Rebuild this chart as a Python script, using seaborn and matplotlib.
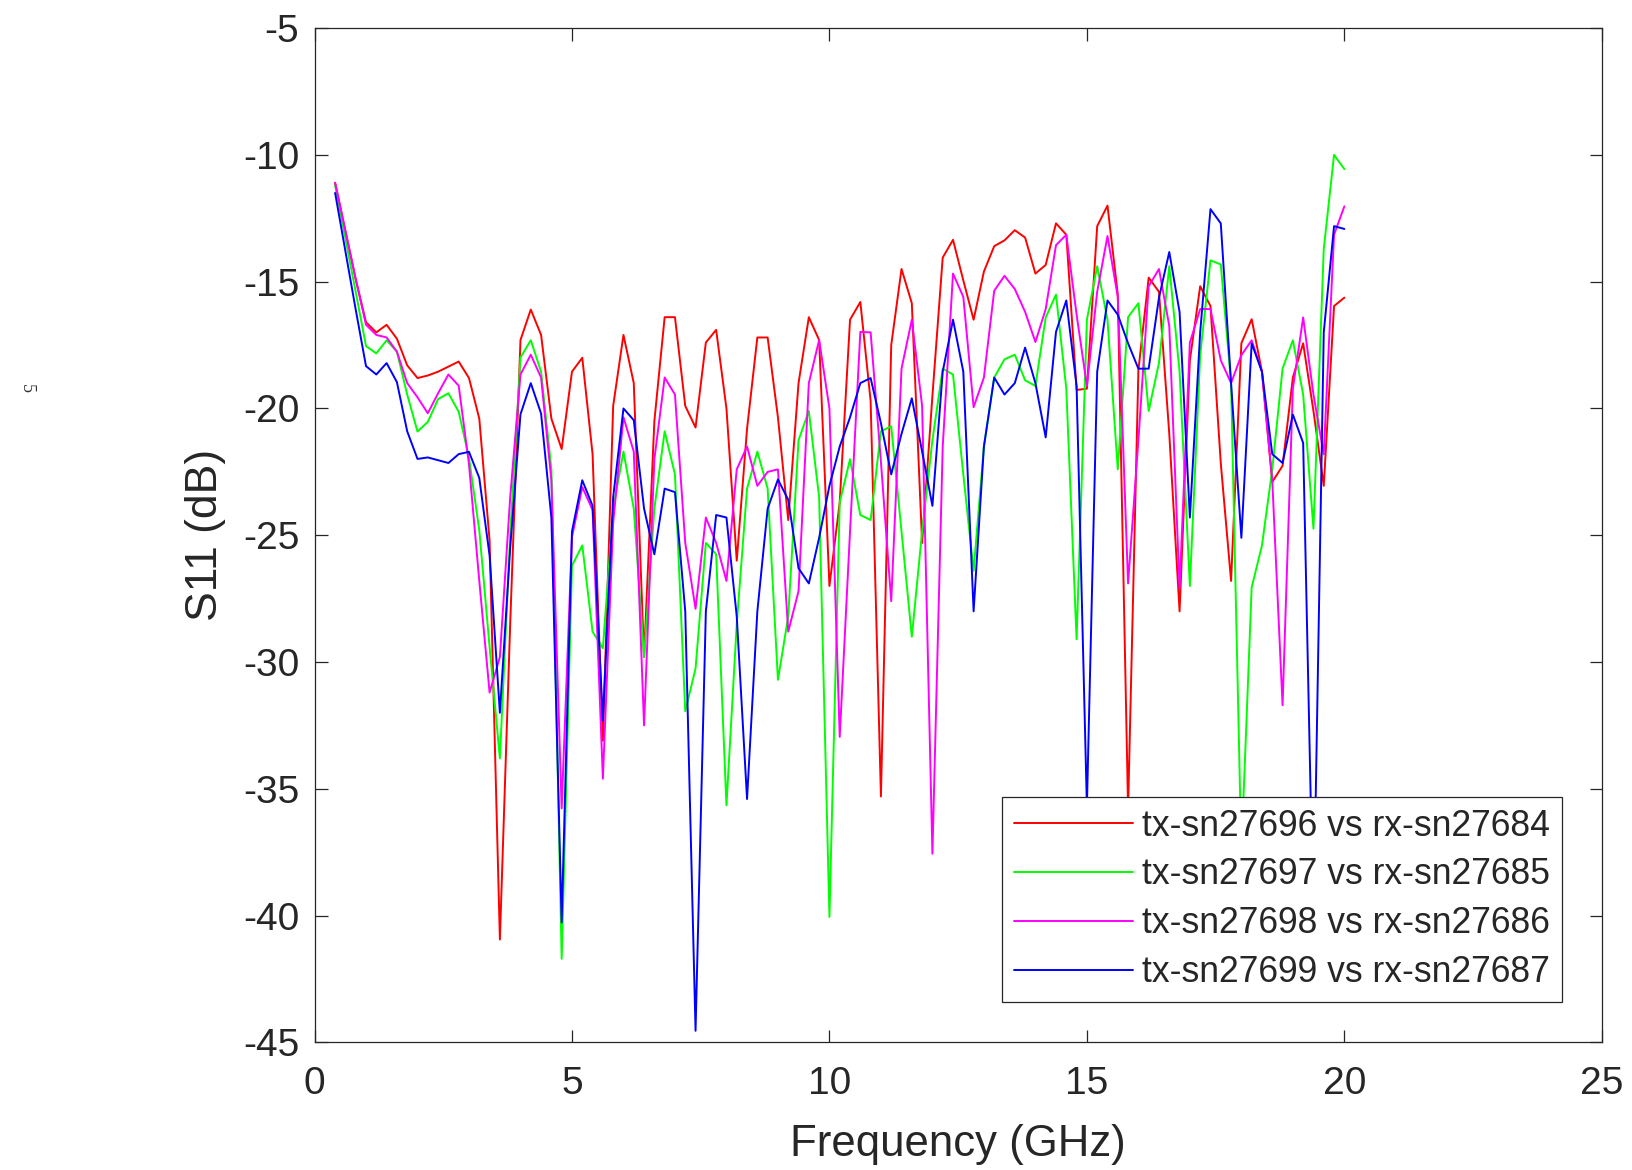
import numpy as np
import pandas as pd
import matplotlib
matplotlib.use("Agg")
import matplotlib.pyplot as plt
import seaborn as sns

# ---------------- data ----------------
freq_ghz = [0.4, 0.6, 0.8, 1.0, 1.2, 1.4, 1.6, 1.8, 2.0, 2.2, 2.4, 2.6, 2.8, 3.0, 3.2, 3.4, 3.6, 3.8, 4.0, 4.2,
            4.4, 4.6, 4.8, 5.0, 5.2, 5.4, 5.6, 5.8, 6.0, 6.2, 6.4, 6.6, 6.8, 7.0, 7.2, 7.4, 7.6, 7.8, 8.0, 8.2,
            8.4, 8.6, 8.8, 9.0, 9.2, 9.4, 9.6, 9.8, 10.0, 10.2, 10.4, 10.6, 10.8, 11.0, 11.2, 11.4, 11.6, 11.8, 12.0, 12.2,
            12.4, 12.6, 12.8, 13.0, 13.2, 13.4, 13.6, 13.8, 14.0, 14.2, 14.4, 14.6, 14.8, 15.0, 15.2, 15.4, 15.6, 15.8, 16.0, 16.2,
            16.4, 16.6, 16.8, 17.0, 17.2, 17.4, 17.6, 17.8, 18.0, 18.2, 18.4, 18.6, 18.8, 19.0, 19.2, 19.4, 19.6, 19.8, 20.0]

s11_tx27696 = [-11.1, -13.0, -14.9, -16.6, -17.0, -16.7, -17.25, -18.3, -18.8, -18.7, -18.55, -18.35, -18.15, -18.8, -20.4, -25.2, -40.94, -28.5, -17.3, -16.1,
               -17.1, -20.4, -21.6, -18.55, -18.0, -21.8, -33.1, -19.9, -17.1, -19.0, -29.8, -20.5, -16.4, -16.4, -19.9, -20.75, -17.4, -16.9, -20.0, -26.0,
               -20.8, -17.2, -17.2, -20.35, -24.4, -19.0, -16.4, -17.3, -27.0, -23.7, -16.5, -15.8, -19.7, -35.3, -17.5, -14.5, -15.85, -25.3, -19.5, -14.05,
               -13.35, -14.95, -16.5, -14.6, -13.6, -13.37, -12.97, -13.26, -14.68, -14.34, -12.7, -13.15, -19.27, -19.22, -12.81, -12.0, -15.5, -35.8, -18.5, -14.84,
               -15.4, -21.0, -28.0, -18.1, -15.18, -15.96, -22.15, -26.8, -17.43, -16.48, -18.55, -22.9, -22.26, -18.78, -17.43, -20.1, -23.05, -15.96, -15.63]

s11_tx27697 = [-11.2, -13.3, -15.4, -17.54, -17.83, -17.31, -17.76, -19.45, -20.91, -20.53, -19.63, -19.4, -20.13, -21.95, -24.8, -29.4, -33.8, -25.0, -17.99, -17.31,
               -18.55, -22.4, -41.7, -26.2, -25.4, -28.8, -29.46, -23.95, -21.7, -23.95, -29.8, -23.95, -20.9, -22.6, -31.94, -30.25, -25.3, -25.75, -35.65, -28.5,
               -23.16, -21.7, -23.16, -30.7, -28.2, -21.25, -20.1, -23.5, -40.05, -23.7, -22.0, -24.2, -24.4, -20.9, -20.7, -24.85, -29.0, -24.85, -21.25, -18.43,
               -18.66, -22.6, -26.4, -21.5, -18.78, -18.06, -17.88, -18.89, -19.11, -16.41, -15.51, -19.22, -29.1, -16.5, -14.39, -16.5, -22.4, -16.4, -15.85, -20.1,
               -18.2, -14.39, -18.55, -27.0, -17.9, -14.16, -14.32, -19.0, -37.5, -27.06, -25.4, -22.4, -18.43, -17.31, -19.45, -24.74, -13.71, -10.0, -10.56]

s11_tx27698 = [-11.1, -13.0, -14.9, -16.7, -17.1, -17.2, -17.76, -19.0, -19.56, -20.19, -19.4, -18.66, -19.1, -22.2, -26.8, -31.2, -29.8, -23.5, -18.66, -17.88,
               -18.78, -22.83, -35.77, -25.07, -23.1, -24.0, -34.6, -24.5, -20.35, -21.7, -32.5, -22.0, -18.78, -19.45, -25.3, -27.9, -24.3, -25.3, -26.8, -22.4,
               -21.5, -23.05, -22.5, -22.4, -28.8, -27.2, -19.0, -17.3, -20.0, -32.95, -24.85, -16.98, -17.0, -22.1, -27.6, -18.43, -16.5, -19.9, -37.56, -21.5,
               -14.68, -15.6, -19.95, -18.78, -15.36, -14.77, -15.29, -16.19, -17.38, -16.08, -13.56, -13.15, -16.3, -19.11, -15.4, -13.2, -15.6, -26.9, -21.25, -15.18,
               -14.5, -16.75, -27.1, -17.4, -16.08, -16.08, -18.1, -19.0, -17.9, -17.31, -18.55, -22.83, -31.7, -19.22, -16.41, -19.45, -21.81, -13.15, -12.03]

s11_tx27699 = [-11.5, -13.8, -16.1, -18.33, -18.66, -18.21, -18.96, -20.9, -21.99, -21.93, -22.04, -22.15, -21.8, -21.71, -22.74, -25.8, -32.0, -25.5, -20.23, -19.0,
               -20.2, -24.3, -40.27, -24.85, -22.83, -23.84, -32.3, -23.5, -20.0, -20.46, -23.95, -25.75, -23.16, -23.3, -28.0, -44.54, -28.0, -24.2, -24.3, -28.2,
               -35.4, -28.0, -23.95, -22.8, -23.6, -26.3, -26.9, -25.1, -23.05, -21.5, -20.35, -19.0, -18.8, -20.58, -22.6, -21.0, -19.6, -21.7, -23.84, -18.55,
               -16.5, -18.55, -28.0, -21.5, -18.78, -19.45, -19.0, -17.6, -19.0, -21.14, -16.98, -15.74, -19.11, -35.7, -18.55, -15.74, -16.3, -17.43, -18.43, -18.43,
               -15.63, -13.83, -16.2, -24.3, -17.0, -12.14, -12.7, -19.0, -25.1, -17.43, -18.55, -21.8, -22.15, -20.24, -21.36, -40.5, -17.0, -12.81, -12.92]

series_labels = ["tx-sn27696 vs rx-sn27684", "tx-sn27697 vs rx-sn27685",
                 "tx-sn27698 vs rx-sn27686", "tx-sn27699 vs rx-sn27687"]
series_values = [s11_tx27696, s11_tx27697, s11_tx27698, s11_tx27699]
series_colors = ["#FF0000", "#00FF00", "#FF00FF", "#0000FF"]

x_ticks = [0, 5, 10, 15, 20, 25]
y_ticks = [-45, -40, -35, -30, -25, -20, -15, -10, -5]

# ---------------- style ----------------
sns.set_style("white")
plt.rcParams["font.family"] = ["Liberation Sans", "DejaVu Sans"]
plt.rcParams["axes.unicode_minus"] = False

fig = plt.figure(figsize=(16.33, 11.70), dpi=100)
ax = fig.add_axes([0.1926, 0.109, 0.9809 - 0.1926, 0.976 - 0.109])

frames = []
for lab, vals in zip(series_labels, series_values):
    frames.append(pd.DataFrame({"Frequency": freq_ghz, "S11": vals, "series": lab}))
df = pd.concat(frames, ignore_index=True)

sns.lineplot(data=df, x="Frequency", y="S11", hue="series", hue_order=series_labels,
             palette=dict(zip(series_labels, series_colors)), sort=False,
             estimator=None, linewidth=1.4, ax=ax)

ax.set_xlim(0, 25)
ax.set_ylim(-45, -5)
ax.set_xticks(x_ticks)
ax.set_yticks(y_ticks)
ax.set_xticklabels([str(t) for t in x_ticks])
ax.set_yticklabels([str(t) for t in y_ticks])

axis_col = "#262626"
for sp in ax.spines.values():
    sp.set_visible(True)
    sp.set_color(axis_col)
    sp.set_linewidth(0.9)
ax.tick_params(axis="both", which="major", direction="in", length=9, width=0.9,
               color=axis_col, labelcolor=axis_col, labelsize=28,
               top=True, right=True, bottom=True, left=True)
ax.tick_params(axis="x", pad=17)
ax.tick_params(axis="y", pad=11)

ax.set_xlabel("Frequency (GHz)", fontsize=31.5, color=axis_col, labelpad=16)
ax.set_ylabel("S11 (dB)", fontsize=32, color=axis_col, labelpad=12)

leg = ax.legend(loc="lower right", bbox_to_anchor=(0.969, 0.04), borderaxespad=0,
                fontsize=25.6, frameon=True, fancybox=False, handlelength=3.35,
                handletextpad=0.25, labelspacing=0.39, borderpad=0.33)
leg.get_frame().set_edgecolor(axis_col)
leg.get_frame().set_linewidth(0.9)
leg.get_frame().set_alpha(1.0)
for line in leg.get_lines():
    line.set_linewidth(1.4)
for txt in leg.get_texts():
    txt.set_color(axis_col)

# small stray glyph at the left edge of the reference image
fig.text(26 / 1633, 1 - 389 / 1170, "5", fontsize=13, family="Liberation Serif",
         rotation=-90, ha="center", va="center", color="#333333")

fig.savefig("out.png", dpi=100, facecolor="white")
